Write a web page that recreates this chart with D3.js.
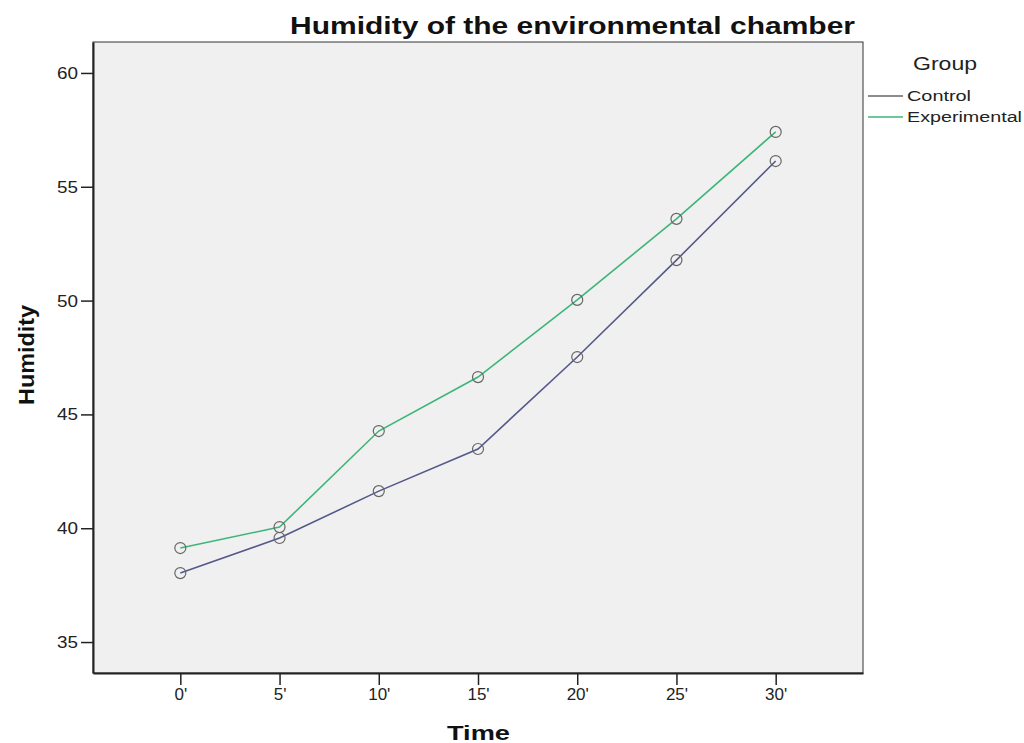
<!DOCTYPE html>
<html><head><meta charset="utf-8">
<script src="https://cdn.jsdelivr.net/npm/d3@7"></script>
<style>body{margin:0;background:#fff;font-family:"Liberation Sans",Arial,sans-serif;}</style>
</head><body><svg id="c" width="1024" height="743"></svg>
<script>
const times = ["0'", "5'", "10'", "15'", "20'", "25'", "30'"];
const controlValues = [38.03, 39.57, 41.63, 43.48, 47.52, 51.78, 56.13];
const experimentalValues = [39.13, 40.05, 44.27, 46.64, 50.03, 53.59, 57.41];
const yTicks = [35, 40, 45, 50, 55, 60];
const groups = ["Control", "Experimental"];
const groupColors = ["#55598a", "#3db57a"];

const svg = d3.select("#c");
const L = 93, T = 42, R = 863, B = 673;

const x = d3.scalePoint().domain(times).range([L, R]).padding(0.88);
const y = d3.scaleLinear().domain([33.64, 61.36]).range([B, T]);

svg.append("rect").attr("x", L).attr("y", T).attr("width", R - L).attr("height", B - T)
  .attr("fill", "#f0f0f0").attr("stroke", "#333").attr("stroke-width", 1);

const yAxis = svg.append("g").attr("transform", `translate(${L},0)`)
  .call(d3.axisLeft(y).tickValues(yTicks).tickSize(12).tickSizeOuter(0).tickPadding(3));
const xAxis = svg.append("g").attr("transform", `translate(0,${B})`)
  .call(d3.axisBottom(x).tickSize(12).tickSizeOuter(0).tickPadding(3));
[yAxis, xAxis].forEach(a => {
  a.attr("font-size", 17).attr("font-family", "'Liberation Sans',Arial,sans-serif");
  a.select(".domain").attr("stroke", "#222").attr("stroke-width", 2);
  a.selectAll(".tick line").attr("stroke", "#222").attr("stroke-width", 1.5);
  a.selectAll(".tick text").attr("fill", "#222");
});
yAxis.selectAll(".tick text").attr("textLength", 21).attr("lengthAdjust", "spacingAndGlyphs");

const series = [controlValues, experimentalValues];
const line = d3.line().x((d, i) => x(times[i])).y(d => y(d));
series.forEach((vals, k) => {
  svg.append("path").datum(vals).attr("d", line).attr("fill", "none")
    .attr("stroke", groupColors[k]).attr("stroke-width", 1.6);
  svg.append("g").selectAll("circle").data(vals).join("circle")
    .attr("cx", (d, i) => x(times[i])).attr("cy", d => y(d)).attr("r", 5.5)
    .attr("fill", "none").attr("stroke", "#666").attr("stroke-width", 1.2);
});

svg.append("text").attr("x", 290).attr("y", 34)
  .attr("font-size", 23).attr("font-weight", "bold").attr("fill", "#111")
  .attr("textLength", 565).attr("lengthAdjust", "spacingAndGlyphs")
  .text("Humidity of the environmental chamber");

svg.append("text").attr("transform", `translate(34,405) rotate(-90)`)
  .attr("font-size", 22).attr("font-weight", "bold")
  .attr("textLength", 100).attr("lengthAdjust", "spacingAndGlyphs")
  .attr("fill", "#111").text("Humidity");

svg.append("text").attr("x", 447).attr("y", 740)
  .attr("font-size", 21).attr("font-weight", "bold").attr("fill", "#111")
  .attr("textLength", 63).attr("lengthAdjust", "spacingAndGlyphs").text("Time");

const lg = svg.append("g");
lg.append("text").attr("x", 913).attr("y", 70)
  .attr("font-size", 19).attr("fill", "#222")
  .attr("textLength", 64).attr("lengthAdjust", "spacingAndGlyphs").text("Group");
const legendLens = [64, 115];
groups.forEach((g, i) => {
  const yy = 96 + i * 21;
  lg.append("line").attr("x1", 868).attr("x2", 903).attr("y1", yy).attr("y2", yy)
    .attr("stroke", i === 0 ? "#666" : groupColors[i]).attr("stroke-width", 1.5);
  lg.append("text").attr("x", 907).attr("y", yy + 5).attr("font-size", 15.5)
    .attr("fill", "#222").attr("textLength", legendLens[i]).attr("lengthAdjust", "spacingAndGlyphs").text(g);
});
</script></body></html>
